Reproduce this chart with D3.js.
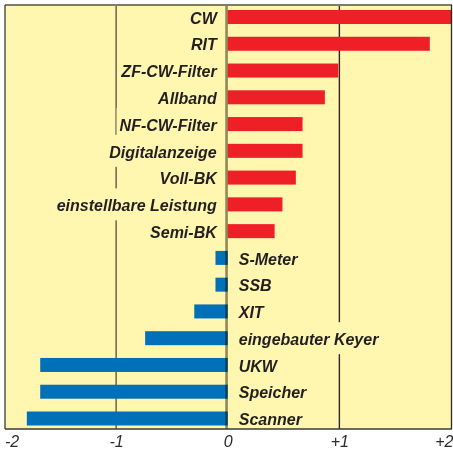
<!DOCTYPE html>
<html>
<head>
<meta charset="utf-8">
<script src="https://cdn.jsdelivr.net/npm/d3@7"></script>
<style>
  html, body { margin: 0; padding: 0; background: #ffffff; }
  svg { display: block; }
</style>
</head>
<body>
<svg id="chart" width="453" height="454"></svg>
<script>
// Features rated by preference: positive = wanted (red), negative = not needed (blue)
const features = [
  "CW", "RIT", "ZF-CW-Filter", "Allband", "NF-CW-Filter", "Digitalanzeige",
  "Voll-BK", "einstellbare Leistung", "Semi-BK",
  "S-Meter", "SSB", "XIT", "eingebauter Keyer", "UKW", "Speicher", "Scanner"
];
const ratings = [
  2.0, 1.81, 0.99, 0.87, 0.67, 0.67,
  0.61, 0.49, 0.42,
  -0.11, -0.11, -0.30, -0.74, -1.68, -1.68, -1.80
];
const tickValues = [-2, -1, 0, 1, 2];
const tickLabels = ["-2", "-1", "0", "+1", "+2"];

const svg = d3.select("#chart");
const plotLeft = 5, plotRight = 451.5, plotTop = 5, plotBottom = 429;

const x = d3.scaleLinear().domain([-2, 2]).range([4.5, 451]);
const y = d3.scaleBand().domain(features).range([plotTop, plotBottom + 1.5])
  .paddingInner(0.477).paddingOuter(0.187);

const rows = features.map((f, i) => ({ name: f, value: ratings[i] }));

// plot background
svg.append("rect")
  .attr("x", plotLeft).attr("y", plotTop)
  .attr("width", plotRight - plotLeft).attr("height", plotBottom - plotTop)
  .attr("fill", "#fff6b0");

// vertical grid lines at -1 and +1
svg.append("line")
  .attr("x1", x(-1)).attr("x2", x(-1)).attr("y1", plotTop).attr("y2", plotBottom)
  .attr("stroke", "#5e5a48").attr("stroke-width", 1.4);
svg.append("line")
  .attr("x1", x(1)).attr("x2", x(1)).attr("y1", plotTop).attr("y2", plotBottom)
  .attr("stroke", "#2a2a2a").attr("stroke-width", 1.4);

// label backgrounds hide the grid lines behind the text (kept inside the plot)
const labelFont = "bold italic 16px 'Liberation Sans', Arial, sans-serif";
const labels = svg.append("g");
rows.forEach(d => {
  const pos = d.value >= 0;
  const tx = pos ? x(0) - 11 : x(0) + 11;
  const cy = y(d.name) + y.bandwidth() / 2;
  const t = labels.append("text")
    .attr("x", tx).attr("y", cy)
    .attr("dy", "0.42em")
    .attr("text-anchor", pos ? "end" : "start")
    .style("font", labelFont)
    .attr("fill", "#231f20")
    .text(d.name);
  const bb = t.node().getBBox();
  const y0 = Math.max(plotTop + 1, cy - 16);
  const y1 = Math.min(plotBottom - 1, cy + 16);
  labels.insert("rect", "text")
    .attr("x", bb.x - 3).attr("y", y0)
    .attr("width", bb.width + 6).attr("height", y1 - y0)
    .attr("fill", "#fff6b0");
});

// bars
svg.append("g").selectAll("rect")
  .data(rows)
  .join("rect")
  .attr("x", d => x(Math.min(0, d.value)))
  .attr("y", d => y(d.name))
  .attr("width", d => Math.abs(x(d.value) - x(0)))
  .attr("height", y.bandwidth())
  .attr("fill", d => d.value >= 0 ? "#ee1f26" : "#0070b9");

// zero line
svg.append("line")
  .attr("x1", x(0) - 1.2).attr("x2", x(0) - 1.2).attr("y1", plotTop).attr("y2", plotBottom)
  .attr("stroke", "#6e6650").attr("stroke-width", 2.6)
  .style("mix-blend-mode", "multiply").attr("opacity", 0.75);

// frame
svg.append("line").attr("x1", plotLeft).attr("x2", plotRight + 0.5).attr("y1", plotTop).attr("y2", plotTop)
  .attr("stroke", "#7d7a70").attr("stroke-width", 2);
svg.append("line").attr("x1", plotLeft).attr("x2", plotLeft).attr("y1", plotTop).attr("y2", plotBottom)
  .attr("stroke", "#3a3a3a").attr("stroke-width", 1.3);
svg.append("line").attr("x1", plotRight).attr("x2", plotRight).attr("y1", plotTop).attr("y2", plotBottom)
  .attr("stroke", "#2a2a2a").attr("stroke-width", 1.3);
svg.append("line").attr("x1", plotLeft).attr("x2", plotRight + 0.5).attr("y1", plotBottom).attr("y2", plotBottom)
  .attr("stroke", "#3a3a3a").attr("stroke-width", 1.5);

// x axis labels
const axis = d3.axisBottom(x)
  .tickValues(tickValues)
  .tickSize(0)
  .tickFormat((d, i) => tickLabels[i]);
const gx = svg.append("g").attr("transform", `translate(0,${plotBottom})`).call(axis);
gx.select(".domain").remove();
gx.selectAll("text")
  .attr("y", 7)
  .attr("dy", "0.71em")
  .style("font", "italic 16px 'Liberation Sans', Arial, sans-serif")
  .attr("fill", "#2b2b2b")
  .attr("text-anchor", (d, i) => i === 0 ? "start" : (i === tickValues.length - 1 ? "end" : "middle"))
  .attr("dx", (d, i) => i === 0 ? 0 : (i === tickValues.length - 1 ? 2 : 0));
</script>
</body>
</html>
